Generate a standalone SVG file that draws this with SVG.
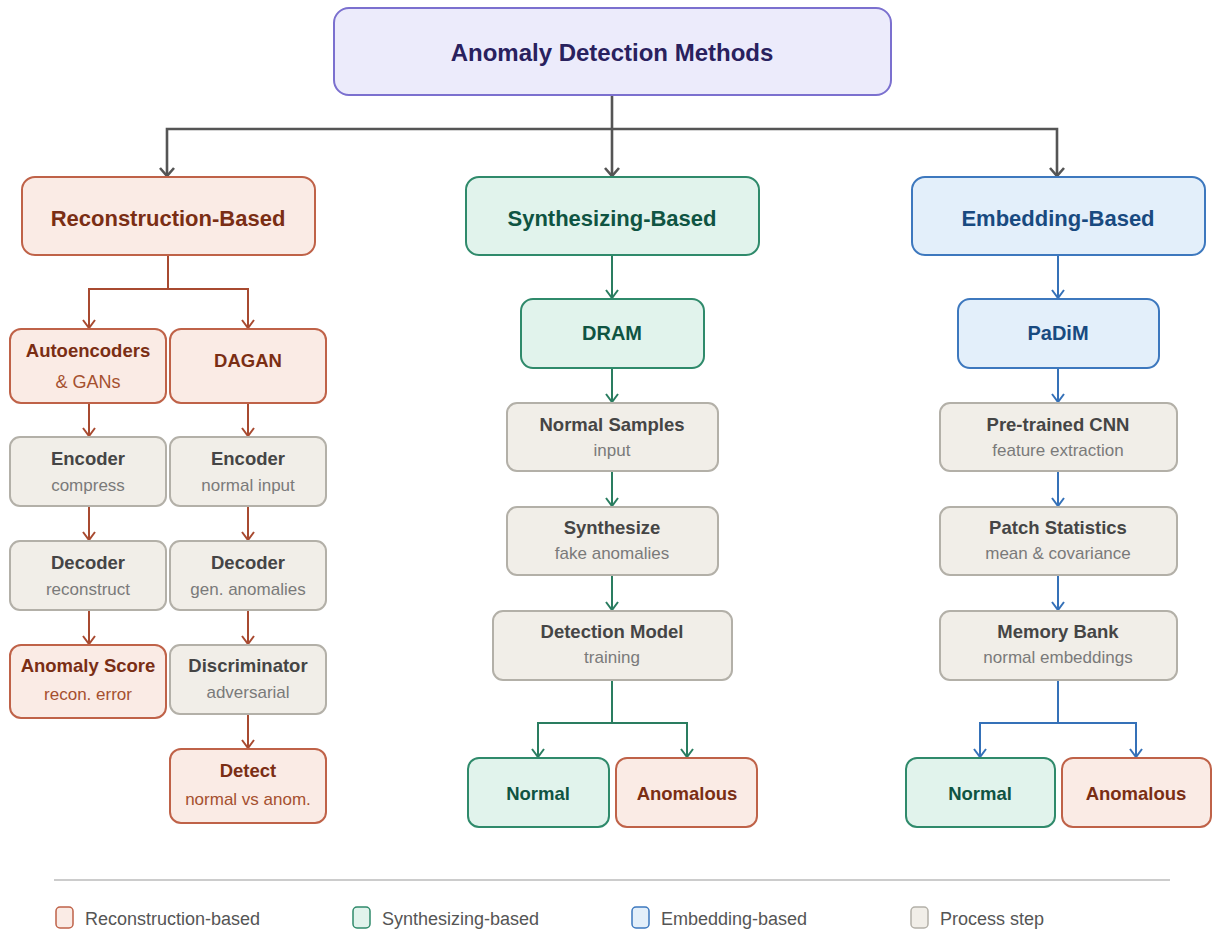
<svg xmlns="http://www.w3.org/2000/svg" width="1213" height="933" viewBox="0 0 1213 933">
<style>
text{font-family:"Liberation Sans",Arial,sans-serif;text-anchor:middle}
.root rect{fill:#ECEBFB;stroke:#7B70CF;stroke-width:2}
.root text{fill:#29215E;font-size:24px;font-weight:bold}
.rec rect{fill:#FAEBE5;stroke:#BF6248;stroke-width:2}
.rec .t{fill:#7A2E14}
.rec .s{fill:#A5502F}
.syn rect{fill:#E1F3EC;stroke:#2F8A6B;stroke-width:2}
.syn .t{fill:#0F5442}
.emb rect{fill:#E3EFFA;stroke:#3D78BE;stroke-width:2}
.emb .t{fill:#184A80}
.proc rect{fill:#F1EEE8;stroke:#B3B0A8;stroke-width:2}
.proc .t{fill:#454545}
.proc .s{fill:#7A7A7A}
.t{font-size:18.5px;font-weight:bold}
.s{font-size:17px}
.t.m{font-size:20px}
.t.h{font-size:22px}
.c{fill:none;stroke-width:2}
.cg{stroke:#555555;stroke-width:2.6}
.cr{stroke:#A84A30}
.cs{stroke:#2A7D60}
.ce{stroke:#3571B8}
.leg text{text-anchor:start;font-size:18px;fill:#555555}
</style>
<defs>
<marker id="ag" markerWidth="20" markerHeight="20" refX="10" refY="10" orient="auto" markerUnits="userSpaceOnUse" viewBox="0 0 20 20"><path d="M2,3 L10,10 L2,17" fill="none" stroke="#555555" stroke-width="2.6"/></marker>
<marker id="ar" markerWidth="20" markerHeight="20" refX="10" refY="10" orient="auto" markerUnits="userSpaceOnUse" viewBox="0 0 20 20"><path d="M2,4 L10,10 L2,16" fill="none" stroke="#A84A30" stroke-width="2"/></marker>
<marker id="as" markerWidth="20" markerHeight="20" refX="10" refY="10" orient="auto" markerUnits="userSpaceOnUse" viewBox="0 0 20 20"><path d="M2,4 L10,10 L2,16" fill="none" stroke="#2A7D60" stroke-width="2"/></marker>
<marker id="ae" markerWidth="20" markerHeight="20" refX="10" refY="10" orient="auto" markerUnits="userSpaceOnUse" viewBox="0 0 20 20"><path d="M2,4 L10,10 L2,16" fill="none" stroke="#3571B8" stroke-width="2"/></marker>
</defs>
<rect width="1213" height="933" fill="#FFFFFF"/>

<g id="connectors">
<path class="c cg" d="M612,95 V129"/>
<path class="c cg" d="M612,129 H167 V176" marker-end="url(#ag)"/>
<path class="c cg" d="M612,129 V176" marker-end="url(#ag)"/>
<path class="c cg" d="M612,129 H1057 V176" marker-end="url(#ag)"/>

<path class="c cr" d="M168,255 V289"/>
<path class="c cr" d="M168,289 H89 V328" marker-end="url(#ar)"/>
<path class="c cr" d="M168,289 H248 V328" marker-end="url(#ar)"/>
<path class="c cr" d="M89,403 V436" marker-end="url(#ar)"/>
<path class="c cr" d="M89,506 V540" marker-end="url(#ar)"/>
<path class="c cr" d="M89,610 V644" marker-end="url(#ar)"/>
<path class="c cr" d="M248,403 V436" marker-end="url(#ar)"/>
<path class="c cr" d="M248,506 V540" marker-end="url(#ar)"/>
<path class="c cr" d="M248,610 V644" marker-end="url(#ar)"/>
<path class="c cr" d="M248,714 V748" marker-end="url(#ar)"/>

<path class="c cs" d="M612,255 V298" marker-end="url(#as)"/>
<path class="c cs" d="M612,368 V402" marker-end="url(#as)"/>
<path class="c cs" d="M612,471 V506" marker-end="url(#as)"/>
<path class="c cs" d="M612,575 V610" marker-end="url(#as)"/>
<path class="c cs" d="M612,680 V723"/>
<path class="c cs" d="M612,723 H538 V757" marker-end="url(#as)"/>
<path class="c cs" d="M612,723 H687 V757" marker-end="url(#as)"/>

<path class="c ce" d="M1058,255 V298" marker-end="url(#ae)"/>
<path class="c ce" d="M1058,368 V402" marker-end="url(#ae)"/>
<path class="c ce" d="M1058,471 V506" marker-end="url(#ae)"/>
<path class="c ce" d="M1058,575 V610" marker-end="url(#ae)"/>
<path class="c ce" d="M1058,680 V723"/>
<path class="c ce" d="M1058,723 H980 V757" marker-end="url(#ae)"/>
<path class="c ce" d="M1058,723 H1136 V757" marker-end="url(#ae)"/>
</g>

<g id="root" class="root"><rect x="334" y="8" width="557" height="87" rx="15"/><text x="612" y="61">Anomaly Detection Methods</text></g>

<g id="recon" class="rec"><rect x="22" y="177" width="293" height="78" rx="13"/><text class="t h" x="168" y="226">Reconstruction-Based</text></g>
<g id="synth" class="syn"><rect x="466" y="177" width="293" height="78" rx="13"/><text class="t h" x="612" y="226">Synthesizing-Based</text></g>
<g id="embed" class="emb"><rect x="912" y="177" width="293" height="78" rx="13"/><text class="t h" x="1058" y="226">Embedding-Based</text></g>

<g id="autoenc" class="rec"><rect x="10" y="329" width="156" height="74" rx="11"/><text class="t" x="88" y="357">Autoencoders</text><text class="s" x="88" y="388" style="font-size:18px">&amp; GANs</text></g>
<g id="dagan" class="rec"><rect x="170" y="329" width="156" height="74" rx="11"/><text class="t" x="248" y="367">DAGAN</text></g>

<g id="enc1" class="proc"><rect x="10" y="437" width="156" height="69" rx="10"/><text class="t" x="88" y="465">Encoder</text><text class="s" x="88" y="491">compress</text></g>
<g id="enc2" class="proc"><rect x="170" y="437" width="156" height="69" rx="10"/><text class="t" x="248" y="465">Encoder</text><text class="s" x="248" y="491">normal input</text></g>
<g id="dec1" class="proc"><rect x="10" y="541" width="156" height="69" rx="10"/><text class="t" x="88" y="569">Decoder</text><text class="s" x="88" y="595">reconstruct</text></g>
<g id="dec2" class="proc"><rect x="170" y="541" width="156" height="69" rx="10"/><text class="t" x="248" y="569">Decoder</text><text class="s" x="248" y="595">gen. anomalies</text></g>
<g id="score" class="rec"><rect x="10" y="645" width="156" height="73" rx="11"/><text class="t" x="88" y="672">Anomaly Score</text><text class="s" x="88" y="700">recon. error</text></g>
<g id="disc" class="proc"><rect x="170" y="645" width="156" height="69" rx="10"/><text class="t" x="248" y="672">Discriminator</text><text class="s" x="248" y="698">adversarial</text></g>
<g id="detect" class="rec"><rect x="170" y="749" width="156" height="74" rx="11"/><text class="t" x="248" y="777">Detect</text><text class="s" x="248" y="805">normal vs anom.</text></g>

<g id="dram" class="syn"><rect x="521" y="299" width="183" height="69" rx="12"/><text class="t m" x="612" y="340">DRAM</text></g>
<g id="normsamp" class="proc"><rect x="507" y="403" width="211" height="68" rx="10"/><text class="t" x="612" y="431">Normal Samples</text><text class="s" x="612" y="456">input</text></g>
<g id="synthz" class="proc"><rect x="507" y="507" width="211" height="68" rx="10"/><text class="t" x="612" y="534">Synthesize</text><text class="s" x="612" y="559">fake anomalies</text></g>
<g id="detmodel" class="proc"><rect x="493" y="611" width="239" height="69" rx="10"/><text class="t" x="612" y="638">Detection Model</text><text class="s" x="612" y="663">training</text></g>
<g id="snormal" class="syn"><rect x="468" y="758" width="141" height="69" rx="11"/><text class="t" x="538" y="800">Normal</text></g>
<g id="sanom" class="rec"><rect x="616" y="758" width="141" height="69" rx="11"/><text class="t" x="687" y="800">Anomalous</text></g>

<g id="padim" class="emb"><rect x="958" y="299" width="201" height="69" rx="12"/><text class="t m" x="1058" y="340">PaDiM</text></g>
<g id="cnn" class="proc"><rect x="940" y="403" width="237" height="68" rx="10"/><text class="t" x="1058" y="431">Pre-trained CNN</text><text class="s" x="1058" y="456">feature extraction</text></g>
<g id="patch" class="proc"><rect x="940" y="507" width="237" height="68" rx="10"/><text class="t" x="1058" y="534">Patch Statistics</text><text class="s" x="1058" y="559">mean &amp; covariance</text></g>
<g id="membank" class="proc"><rect x="940" y="611" width="237" height="69" rx="10"/><text class="t" x="1058" y="638">Memory Bank</text><text class="s" x="1058" y="663">normal embeddings</text></g>
<g id="enormal" class="syn"><rect x="906" y="758" width="149" height="69" rx="11"/><text class="t" x="980" y="800">Normal</text></g>
<g id="eanom" class="rec"><rect x="1062" y="758" width="149" height="69" rx="11"/><text class="t" x="1136" y="800">Anomalous</text></g>

<g id="legend" class="leg">
<line x1="54" y1="880" x2="1170" y2="880" stroke="#CCCCCC" stroke-width="2"/>
<rect x="56" y="907" width="17" height="21" rx="4" fill="#FAEBE5" stroke="#BF6248" stroke-width="1.5"/><text x="85" y="925">Reconstruction-based</text>
<rect x="353" y="907" width="17" height="21" rx="4" fill="#E1F3EC" stroke="#2F8A6B" stroke-width="1.5"/><text x="382" y="925">Synthesizing-based</text>
<rect x="632" y="907" width="17" height="21" rx="4" fill="#E3EFFA" stroke="#3D78BE" stroke-width="1.5"/><text x="661" y="925">Embedding-based</text>
<rect x="911" y="907" width="17" height="21" rx="4" fill="#F1EEE8" stroke="#B3B0A8" stroke-width="1.5"/><text x="940" y="925">Process step</text>
</g>
</svg>
